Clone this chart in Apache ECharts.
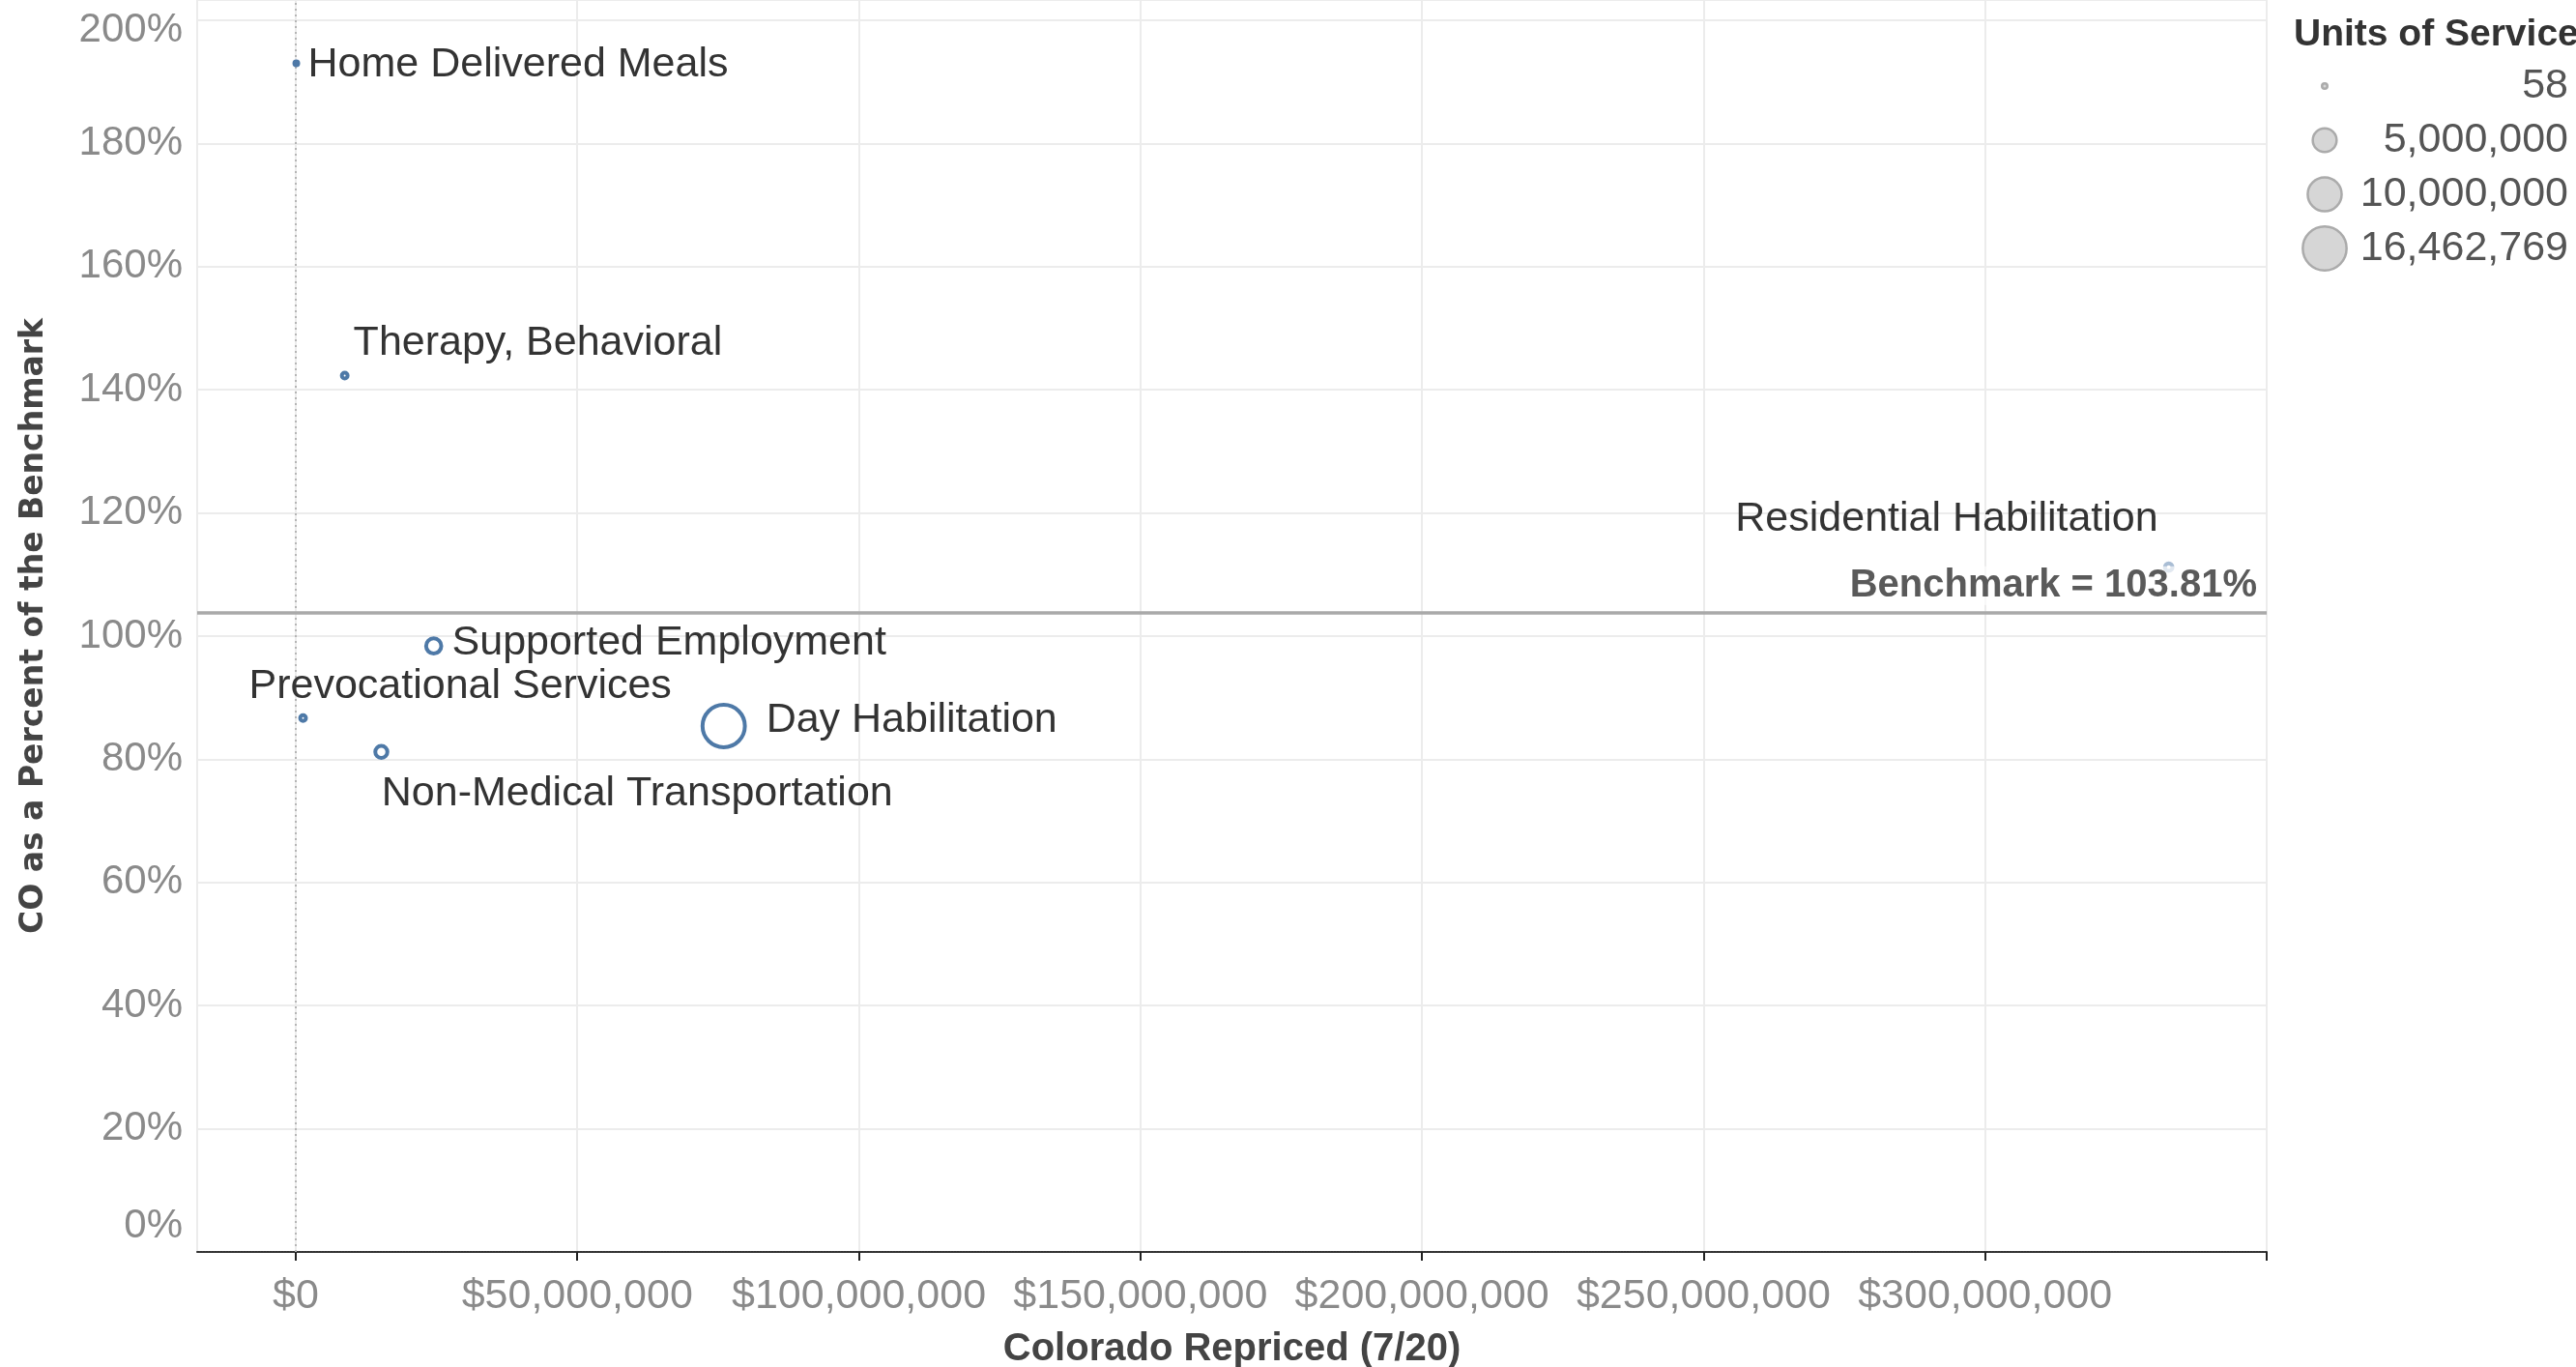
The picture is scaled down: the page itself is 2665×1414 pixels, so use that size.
<!DOCTYPE html>
<html>
<head>
<meta charset="utf-8">
<script src="https://cdn.jsdelivr.net/npm/echarts@6/dist/echarts.min.js"></script>
<style>
  html, body { margin: 0; padding: 0; background: #fff; }
  #chart { width: 2665px; height: 1414px; }
</style>
</head>
<body>
<div id="chart"></div>
<script>
// values
const services = [
  'Home Delivered Meals',
  'Therapy, Behavioral',
  'Prevocational Services',
  'Non-Medical Transportation',
  'Supported Employment',
  'Day Habilitation',
  'Residential Habilitation'
]
const coloradoRepriced = [0.1e6, 8.7e6, 1.3e6, 15.2e6, 24.5e6, 76.0e6, 332.6e6]
const pctOfBenchmark = [193.0, 142.3, 86.7, 81.2, 98.4, 85.4, 111.2]
const unitsOfService = [58, 260000, 260000, 1540000, 2400000, 16462769, 570000]
const benchmark = 103.81

const xTickValues = [0, 50e6, 100e6, 150e6, 200e6, 250e6, 300e6, 350e6]
const xLabelValues = [0, 50e6, 100e6, 150e6, 200e6, 250e6, 300e6]
const legendUnits = [58, 5000000, 10000000, 16462769]

const FONT = 'Liberation Sans'
const BLUE = '#4e79a7'
const RING = 4

// tableau style size: area grows with units
function outerSize(u) {
  return Math.sqrt(64 + 135 * u / 1e6)
}
function money(v) {
  return '$' + Math.round(v).toLocaleString('en-US')
}

// where each mark label sits (tableau placed them by hand)
const labelPlace = {
  'Home Delivered Meals': { position: 'right', distance: 8, offset: [0, 2] },
  'Therapy, Behavioral': { position: 'right', distance: 4, offset: [0, -33] },
  'Prevocational Services': { position: 'right', distance: 5, offset: [-66, -33] },
  'Non-Medical Transportation': { position: 'right', distance: 5, offset: [-13, 43] },
  'Supported Employment': { position: 'right', distance: 9, offset: [0, -3] },
  'Day Habilitation': { position: 'right', distance: 20, offset: [0, -6] },
  'Residential Habilitation': { position: 'left', distance: 5, offset: [0, -50] }
}
// mark sitting under the benchmark label looks washed out
const fadedMarks = ['Residential Habilitation']

const points = services.map((name, i) => ({
  name: name,
  value: [coloradoRepriced[i], pctOfBenchmark[i], unitsOfService[i]],
  label: labelPlace[name],
  itemStyle: fadedMarks.indexOf(name) > -1 ? { borderColor: '#a9bdd4' } : undefined
}))

const chart = echarts.init(document.getElementById('chart'))

// size legend drawn by hand, echarts has no bubble size legend
const legendX = 2405
const legendTop = 89
const legendStep = 56
const legendGraphic = [{
  type: 'text',
  left: 2373,
  top: 17,
  style: { text: 'Units of Service', font: 'bold 39px ' + FONT, fill: '#333' }
}]
legendUnits.forEach((u, i) => {
  const d = outerSize(u)
  legendGraphic.push({
    type: 'circle',
    shape: { cx: legendX, cy: legendTop + i * legendStep, r: Math.max((d - 2.5) / 2, 1) },
    style: { fill: '#d6d6d6', stroke: '#ababab', lineWidth: 2.5 }
  })
  legendGraphic.push({
    type: 'text',
    x: 2657,
    y: legendTop + i * legendStep,
    style: {
      text: u.toLocaleString('en-US'),
      font: '43px ' + FONT,
      fill: '#555',
      align: 'right',
      verticalAlign: 'middle'
    }
  })
})

const option = {
  animation: false,
  textStyle: { fontFamily: FONT },
  // fixed plot box, labels may sit outside it
  grid: { left: 204, right: 320, top: 0, bottom: 119, outerBoundsMode: 'none' },
  xAxis: {
    type: 'value',
    min: -17.5e6,
    max: 350e6,
    name: 'Colorado Repriced (7/20)',
    nameLocation: 'middle',
    nameGap: 81,
    nameTextStyle: { fontSize: 40, fontWeight: 'bold', color: '#444', fontFamily: FONT },
    axisLine: { show: true, onZero: false, lineStyle: { color: '#333', width: 2, type: [2, 1] } },
    axisTick: { show: true, length: 9, customValues: xTickValues, lineStyle: { color: '#222', width: 2 } },
    axisLabel: {
      customValues: xLabelValues,
      formatter: money,
      fontSize: 43,
      color: '#8a8a8a',
      margin: 25
    },
    splitLine: { show: true, lineStyle: { color: '#ececec', width: 2 } }
  },
  yAxis: {
    type: 'value',
    min: 0,
    max: 203.3,
    interval: 20,
    name: 'CO as a Percent of the Benchmark',
    nameLocation: 'middle',
    nameGap: 152,
    nameTextStyle: { fontSize: 33, fontWeight: 'bold', color: '#444', fontFamily: 'DejaVu Sans' },
    axisLine: { show: true, onZero: false, lineStyle: { color: '#ececec', width: 2 } },
    axisTick: { show: false },
    axisLabel: {
      fontSize: 42,
      color: '#8a8a8a',
      margin: 15,
      formatter: v => {
        if (v === 0) return '{low|0%}'
        if (v === 200) return '{high|200%}'
        return v + '%'
      },
      rich: {
        low: { fontSize: 42, color: '#8a8a8a', padding: [0, 0, 54, 0] },
        high: { fontSize: 42, color: '#8a8a8a', padding: [20, 0, 0, 0] }
      }
    },
    splitLine: { show: true, lineStyle: { color: '#ececec', width: 2 } }
  },
  series: [
    {
      // zero line under the marks
      type: 'scatter',
      data: [],
      silent: true,
      markLine: {
        z: 1,
        silent: true,
        symbol: 'none',
        label: { show: false },
        lineStyle: { color: '#b5b5b5', width: 2, type: [2, 4] },
        data: [{ xAxis: 0 }]
      }
    },
    {
      type: 'scatter',
      z: 3,
      data: points,
      symbol: 'circle',
      symbolSize: v => Math.max(outerSize(v[2]) - RING, 1.5),
      itemStyle: {
        color: 'rgba(255,255,255,0)',
        borderColor: BLUE,
        borderWidth: RING,
        opacity: 1
      },
      label: {
        show: true,
        formatter: p => p.name,
        fontSize: 43,
        color: '#333',
        fontFamily: FONT
      },
      markLine: {
        z: 5,
        silent: true,
        symbol: 'none',
        lineStyle: { color: '#a9a9a9', width: 3.5, type: 'solid' },
        label: {
          show: true,
          position: 'insideEndTop',
          formatter: 'Benchmark = ' + benchmark + '%',
          fontSize: 40,
          fontWeight: 'bold',
          color: '#5a5a5a',
          backgroundColor: 'rgba(255,255,255,0.65)',
          distance: [10, 8]
        },
        data: [{ yAxis: benchmark }]
      }
    }
  ],
  graphic: legendGraphic
}

chart.setOption(option)
</script>
</body>
</html>
